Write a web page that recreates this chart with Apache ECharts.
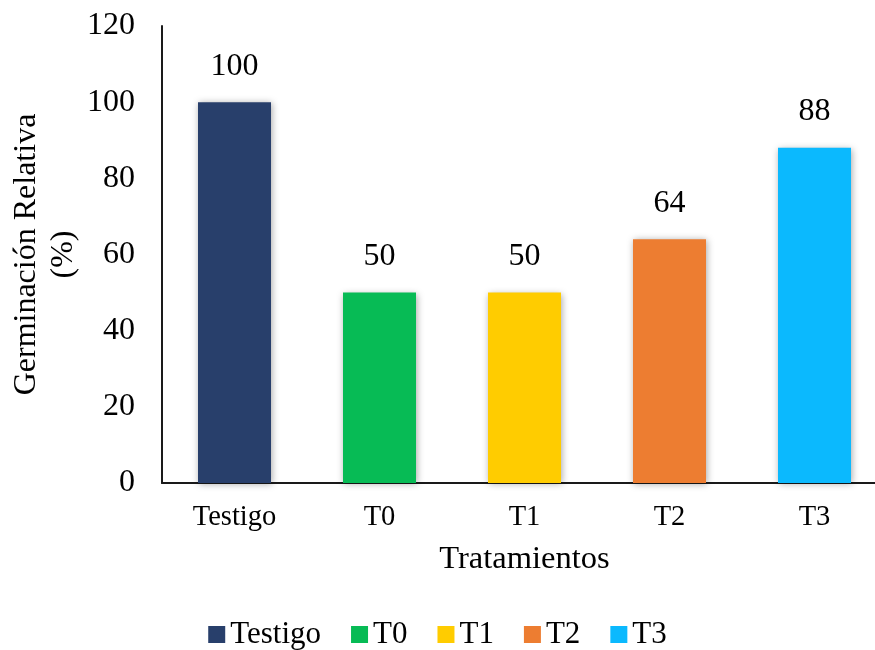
<!DOCTYPE html>
<html>
<head>
<meta charset="utf-8">
<script src="https://cdn.jsdelivr.net/npm/echarts@6/dist/echarts.min.js"></script>
<style>
  html, body { margin: 0; padding: 0; background: #fff; }
  #chart { width: 875px; height: 650px; }
</style>
</head>
<body>
<div id="chart"></div>
<script>
// Germinación relativa por tratamiento
const categories = ['Testigo', 'T0', 'T1', 'T2', 'T3'];
const values = [100, 50, 50, 64, 88];
const colors = ['#283F6B', '#07BB55', '#FFCC00', '#ED7D31', '#0BB9FE'];
const yTicks = { min: 0, max: 120, interval: 20 };

const FONT = '"Liberation Serif", "Times New Roman", serif';

// one series per treatment so each gets its own legend entry
const series = categories.map((name, i) => ({
  name: name,
  type: 'bar',
  barWidth: 73,
  barGap: '-100%',
  data: categories.map((_, j) => (j === i ? values[i] : '-')),
  itemStyle: {
    color: colors[i],
    shadowBlur: 7,
    shadowColor: 'rgba(0,0,0,0.35)',
    shadowOffsetX: 1,
    shadowOffsetY: 1
  },
  label: {
    show: true,
    position: 'top',
    distance: 20,
    color: '#000',
    fontFamily: FONT,
    fontSize: 32
  }
}));

const chart = echarts.init(document.getElementById('chart'));
chart.setOption({
  animation: false,
  backgroundColor: '#fff',
  textStyle: { fontFamily: FONT, color: '#000' },
  legend: {
    bottom: -5,
    left: 'center',
    itemWidth: 17,
    itemHeight: 17,
    itemGap: 30,
    icon: 'rect',
    textStyle: { fontFamily: FONT, fontSize: 31, color: '#000' },
    data: categories
  },
  grid: { left: 162, top: 26, width: 725, height: 457, outerBoundsMode: 'none' },
  xAxis: {
    type: 'category',
    data: categories,
    name: 'Tratamientos',
    nameLocation: 'middle',
    nameGap: 60,
    nameMoveOverlap: false,
    nameTextStyle: { fontFamily: FONT, fontSize: 32.5, color: '#000' },
    axisLine: { lineStyle: { color: '#1a1a1a', width: 2 } },
    axisTick: { show: false },
    axisLabel: { fontFamily: FONT, fontSize: 28.5, color: '#000', margin: 20 }
  },
  yAxis: {
    type: 'value',
    min: yTicks.min,
    max: yTicks.max,
    interval: yTicks.interval,
    name: 'Germinación Relativa\n(%)',
    nameLocation: 'middle',
    nameGap: 80,
    nameMoveOverlap: false,
    nameTextStyle: { fontFamily: FONT, fontSize: 32, color: '#000', lineHeight: 37 },
    axisLine: { show: true, lineStyle: { color: '#1a1a1a', width: 2 } },
    axisTick: { show: false },
    splitLine: { show: false },
    axisLabel: { fontFamily: FONT, fontSize: 32, color: '#000', margin: 27 }
  },
  series: series
});
</script>
</body>
</html>
